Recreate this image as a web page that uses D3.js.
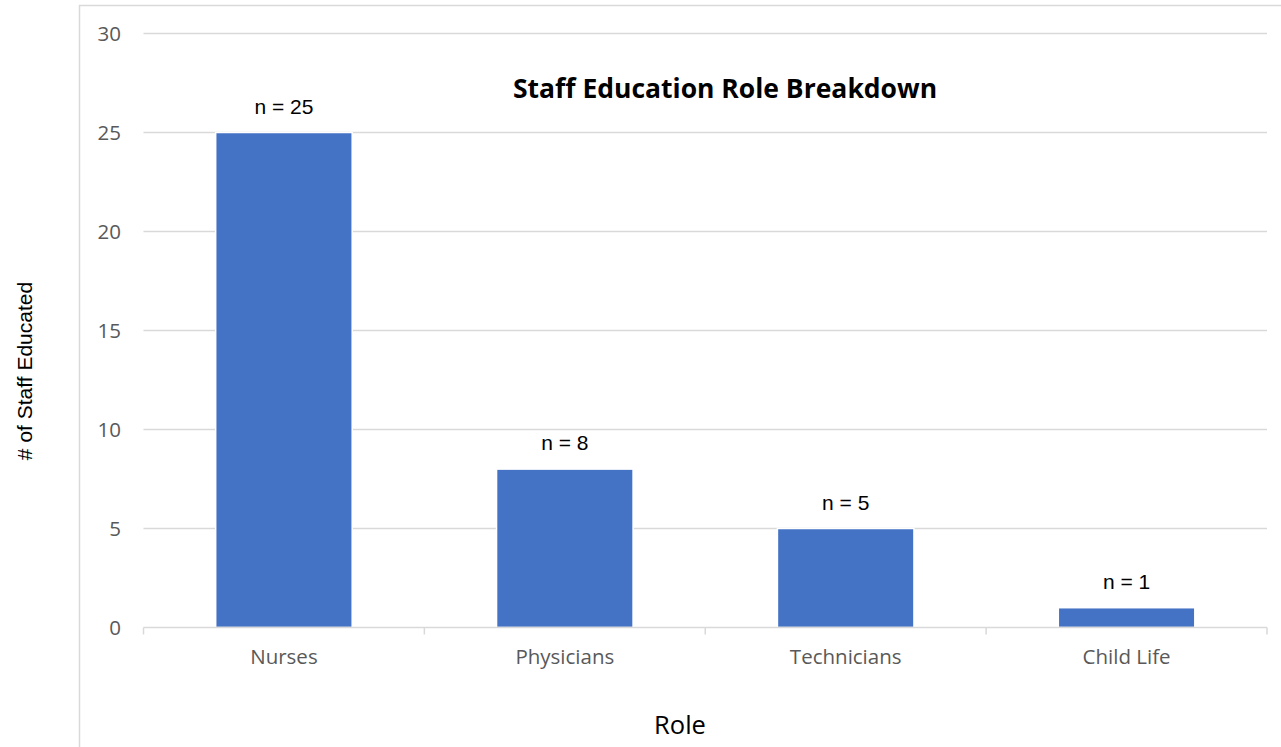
<!DOCTYPE html>
<html>
<head>
<meta charset="utf-8">
<script src="https://cdn.jsdelivr.net/npm/d3@7"></script>
<style>
  body { margin: 0; background: #fff; }
</style>
</head>
<body>
<script>
// Data
const roles = ["Nurses", "Physicians", "Technicians", "Child Life"];
const staffCounts = [25, 8, 5, 1];
const yTicks = [0, 5, 10, 15, 20, 25, 30];

const width = 1281, height = 747;
const margin = { top: 33.5, right: 14, bottom: 119.5, left: 143.5 };
const graphWidth = width - margin.left - margin.right,
    graphHeight = height - margin.top - margin.bottom;

const svg = d3.select("body")
    .append("svg")
    .attr("width", width)
    .attr("height", height);

// chart border (left + top only visible)
svg.append("path")
    .attr("d", `M79.5,${height} V5.5 H${width}`)
    .attr("fill", "none")
    .attr("stroke", "#d9d9d9")
    .attr("stroke-width", 1.5);

const graph = svg.append("g")
    .attr("transform", `translate(${margin.left}, ${margin.top})`);

// Scales
const x = d3.scaleBand()
    .domain(roles)
    .range([0, graphWidth])
    .paddingInner(0.514)
    .paddingOuter(0.257);

const y = d3.scaleLinear()
    .domain([0, 30])
    .range([graphHeight, 0]);

// gridlines
graph.append("g")
    .selectAll("line")
    .data(yTicks.filter(d => d > 0))
    .enter()
    .append("line")
    .attr("x1", 0)
    .attr("x2", graphWidth)
    .attr("y1", d => y(d))
    .attr("y2", d => y(d))
    .attr("stroke", "#d9d9d9")
    .attr("stroke-width", 1.5);

// y axis labels
const yAxis = d3.axisLeft(y).tickValues(yTicks).tickSize(0).tickPadding(22.5);
const yAxisGroup = graph.append("g").call(yAxis);
yAxisGroup.select(".domain").remove();
yAxisGroup.selectAll("text")
    .attr("fill", "#595959")
    .style("font-family", "'Open Sans', sans-serif")
    .style("font-size", "20.5px");

// bars (thin white outline like the original)
graph.selectAll("rect")
    .data(staffCounts)
    .enter()
    .append("rect")
    .attr("x", (d, i) => x(roles[i]))
    .attr("width", x.bandwidth())
    .attr("y", d => y(d))
    .attr("height", d => graphHeight - y(d))
    .attr("fill", "#4472c4")
    .attr("stroke", "#fff")
    .attr("stroke-width", 1.5);

// x axis
const xAxis = d3.axisBottom(x).tickSize(0).tickPadding(22);
const xAxisGroup = graph.append("g")
    .attr("transform", `translate(0, ${graphHeight})`)
    .call(xAxis);
xAxisGroup.select(".domain")
    .attr("stroke", "#d9d9d9")
    .attr("stroke-width", 1.5)
    .attr("d", `M0,0H${graphWidth}`);
xAxisGroup.selectAll("text")
    .attr("fill", "#595959")
    .style("font-family", "'Open Sans', sans-serif")
    .style("font-size", "20.5px");

// category boundary ticks
const step = x.step();
graph.append("g")
    .selectAll("line")
    .data(d3.range(roles.length + 1))
    .enter()
    .append("line")
    .attr("x1", d => d * step)
    .attr("x2", d => d * step)
    .attr("y1", graphHeight)
    .attr("y2", graphHeight + 7)
    .attr("stroke", "#d9d9d9")
    .attr("stroke-width", 1.5);

// data labels
graph.selectAll(".label")
    .data(staffCounts)
    .enter()
    .append("text")
    .attr("class", "label")
    .attr("x", (d, i) => x(roles[i]) + x.bandwidth() / 2)
    .attr("y", d => y(d) - 19)
    .attr("text-anchor", "middle")
    .attr("fill", "#000")
    .style("font-family", "'Liberation Sans', Arial, sans-serif")
    .style("font-size", "21px")
    .text(d => "n = " + d);

// title
svg.append("text")
    .attr("x", 725)
    .attr("y", 98)
    .attr("text-anchor", "middle")
    .style("font-family", "'Open Sans', sans-serif")
    .style("font-weight", "bold")
    .style("font-size", "26.5px")
    .text("Staff Education Role Breakdown");

// axis titles
svg.append("text")
    .attr("x", 680)
    .attr("y", 734)
    .attr("text-anchor", "middle")
    .style("font-family", "'Open Sans', sans-serif")
    .style("font-size", "25.5px")
    .text("Role");

svg.append("text")
    .attr("transform", "translate(32, 371) rotate(-90)")
    .attr("text-anchor", "middle")
    .style("font-family", "'Liberation Sans', Arial, sans-serif")
    .style("font-size", "21px")
    .text("# of Staff Educated");
</script>
</body>
</html>
